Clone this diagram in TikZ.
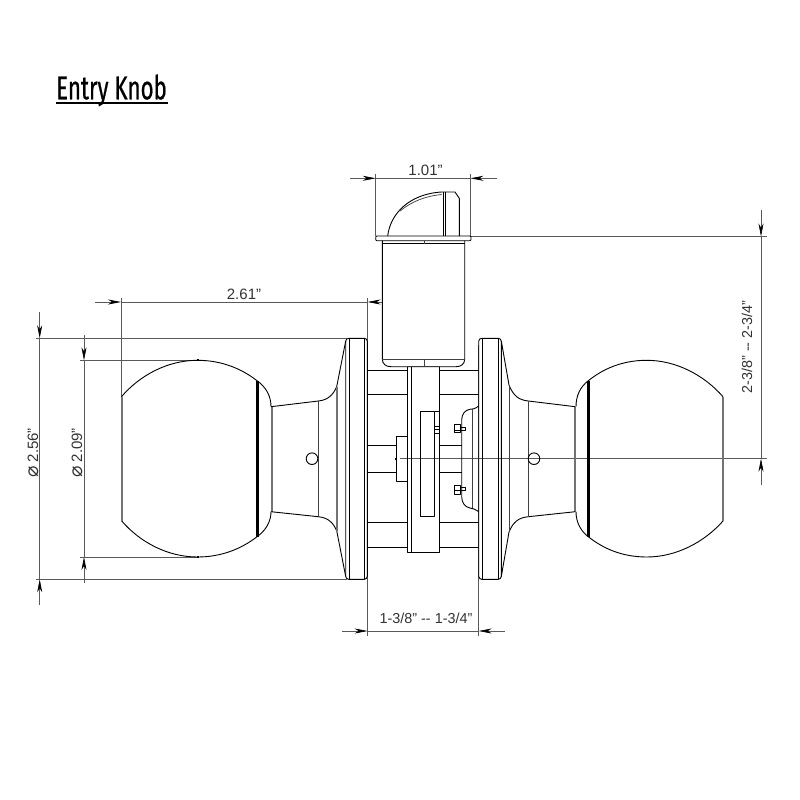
\documentclass[tikz,border=0pt]{standalone}
\usepackage{fontspec}
\usepackage{graphicx}
\setmainfont{Liberation Sans}
\newfontfamily\titlefont[FakeBold=0.7]{Fira Sans}
\newfontfamily\symfont{DejaVu Sans}
\usetikzlibrary{arrows.meta}
\tikzset{
  part/.style={draw=black,line width=0.9pt,line join=round},
  fine/.style={draw=black!75,line width=0.75pt},
  greybar/.style={draw=black!55,line width=2pt},
  heavy/.style={draw=black,line width=3pt},
  dimline/.style={draw=black!65,line width=0.65pt},
  tip/.style={dimline,-{Stealth[length=13pt,width=5pt,inset=4pt,color=black]}},
  dimtext/.style={font=\fontsize{15}{17}\selectfont,text=black!80,inner sep=0pt},
  longdim/.style={dimtext,font=\fontsize{14.4}{17}\selectfont},
  pin/.style={fill=black,draw=none}
}
\newcommand{\dia}{{\symfont\fontsize{19}{19}\selectfont ⌀}}
\begin{document}
\begin{tikzpicture}[x=1pt,y=-1pt]
\useasboundingbox[fill=white] (0,0) rectangle (800,800);
% title
\node[inner sep=0pt,anchor=base west,font=\titlefont\fontsize{33}{35}\selectfont] (title) at (56,99.3) {\scalebox{0.675}[1]{Entry Knob}};
\draw[draw=black,line width=1.6pt] (55.7,103) -- (168,103);

% extension lines (behind)
\draw[dimline] (36,338.3) -- (347,338.3);
\draw[dimline] (36,579.3) -- (347,579.3);
\draw[dimline] (80,360.3) -- (197.5,360.3);
\draw[dimline] (80,557) -- (197.5,557);
\draw[dimline] (121,298) -- (121,396.7);
\draw[dimline] (367.6,298) -- (367.6,636);
\draw[dimline] (478.7,345) -- (478.7,636);
\draw[dimline] (375.7,174) -- (375.7,236);
\draw[dimline] (470.5,174) -- (470.5,236);
\draw[dimline] (471,236.5) -- (767,236.5);
\draw[dimline] (400,458.7) -- (767,458.7);

% dimension lines
\draw[tip] (350,178.3) -- (375.7,178.3);
\draw[tip] (497,178.3) -- (470.5,178.3);
\draw[dimline] (375.7,178.3) -- (470.5,178.3);
\draw[tip] (95,302) -- (121,302);
\draw[tip] (393,302) -- (367.6,302);
\draw[dimline] (121,302) -- (367.6,302);
\draw[tip] (39.7,312) -- (39.7,338.3);
\draw[tip] (39.7,605) -- (39.7,579.3);
\draw[dimline] (39.7,338.3) -- (39.7,579.3);
\draw[tip] (84,335) -- (84,360.3);
\draw[tip] (84,583) -- (84,557);
\draw[dimline] (84,360.3) -- (84,557);
\draw[tip] (761,210) -- (761,236.5);
\draw[tip] (761,485) -- (761,458.7);
\draw[dimline] (761,236.5) -- (761,458.7);
\draw[tip] (342,631) -- (367.6,631);
\draw[tip] (505,631) -- (478.7,631);
\draw[dimline] (367.6,631) -- (478.7,631);

% labels
\node[dimtext] (d101) at (425.5,170) {1.01”};
\node[dimtext] (d261) at (244,294) {2.61”};
\node[dimtext,rotate=90] (d256) at (33,453) {\dia\ 2.56”};
\node[dimtext,rotate=90] (d209) at (77,453) {\dia\ 2.09”};
\node[longdim,rotate=90] (dbore) at (747,347) {2-3/8” -{}- 2-3/4”};
\node[longdim] (dthick) at (426,618.5) {1-3/8” -{}- 1-3/4”};

% pins on the 2.09 diameter
\fill[pin] (196.5,359.3) rectangle (198.5,361.3);
\fill[pin] (196.5,556) rectangle (198.5,558);
\fill[pin] (395,457.7) rectangle (397,459.7);

% left knob
\draw[part] (121.5,396.7) .. controls (140,375) and (168,360.3) .. (197.5,360.3)
  .. controls (222,360.3) and (242,369) .. (257,380.7)
  .. controls (266,387) and (271,396) .. (271,406.7);
\draw[part] (121.5,520.7) .. controls (140,542.4) and (168,557) .. (197.5,557)
  .. controls (222,557) and (242,548.4) .. (257,536.7)
  .. controls (266,530.4) and (271,521.4) .. (271,511.7);
\draw[greybar] (122,396.7) -- (122,520.7);
\draw[heavy] (257.3,380.7) -- (257.3,536.7);
\draw[greybar] (272,406.7) -- (272,511.7);
% left neck
\draw[part] (271,406.7) -- (318.3,401) .. controls (328,400) and (333,395) .. (336.7,386.7) -- (345.7,341);
\draw[part] (271,511.7) -- (318.3,516.7) .. controls (328,517.7) and (333,522.4) .. (336.7,530.7) -- (345.7,576.5);
\draw[fine] (318.3,401) -- (318.3,516.7);
\draw[greybar] (336.7,386.7) -- (336.7,530.7);
\draw[part] (312,458.7) circle[radius=5.8pt];

% right knob
\draw[part] (723,396.7) .. controls (704,375) and (676,360.3) .. (646.7,360.3)
  .. controls (622,360.3) and (603,369) .. (588.3,380.7)
  .. controls (580,387) and (576,396) .. (576,406.7);
\draw[part] (723,521) .. controls (704,542.4) and (676,557) .. (646.7,557)
  .. controls (622,557) and (603,548.4) .. (588.3,536.7)
  .. controls (580,530.4) and (576,521.4) .. (576,511.7);
\draw[greybar] (723,396.7) -- (723,521);
\draw[heavy] (588.3,380.7) -- (588.3,536.7);
\draw[greybar] (575,406.7) -- (575,511.7);
% right neck
\draw[part] (575.3,406.7) -- (528.3,401) .. controls (518,400) and (513,395) .. (509,385) -- (501.3,341);
\draw[part] (575.3,511.7) -- (528.3,516.7) .. controls (518,517.7) and (513,522.4) .. (509,532) -- (501.3,576.5);
\draw[fine] (528.3,401) -- (528.3,516.7);
\draw[fine] (509,385) -- (509,532);
\draw[part] (534,458.7) circle[radius=5.8pt];

% roses
\draw[part,rounded corners=3pt] (345.7,338.3) rectangle (367.3,579.3);
\draw[part] (349,338.3) -- (349,579.3);
\draw[part] (364,338.3) -- (364,579.3);
\draw[part,rounded corners=3pt] (478.7,338.3) rectangle (501.3,579.3);
\draw[part] (482.7,338.3) -- (482.7,579.3);
\draw[part] (498,338.3) -- (498,579.3);

% chassis
\draw[part] (367.3,370.7) -- (407.7,370.7) (439.3,370.7) -- (478.7,370.7);
\draw[part] (367.3,394.7) -- (407.7,394.7) (439.3,394.7) -- (478.7,394.7);
\draw[part] (367.3,522.7) -- (407.7,522.7) (439.3,522.7) -- (478.7,522.7);
\draw[part] (367.3,547) -- (407.7,547) (439.3,547) -- (478.7,547);
\draw[part] (367.3,445) -- (396,445) (439.3,445) -- (461.7,445);
\draw[part] (367.3,472.7) -- (396,472.7) (439.3,472.7) -- (461.7,472.7);
\draw[part] (396,436.7) rectangle (407.7,481);
\draw[part] (407.7,366.7) rectangle (439.3,552);
\draw[part] (411.7,366.7) -- (411.7,552);
\draw[part] (420.3,411.7) rectangle (434.7,516.7);
\draw[part] (434.7,411.7) -- (439.3,411.7);
\draw[part] (434.7,426) -- (439.3,426) (434.7,429) -- (439.3,429) (434.7,433.5) -- (439.3,433.5);

% latch mechanism on the right rose
\draw[part] (478.7,406) .. controls (475,409) and (472,409.3) .. (470,409.3)
  .. controls (465,410) and (461.7,414) .. (461.7,420) -- (461.7,496.7)
  .. controls (461.7,503) and (465,507) .. (470,508)
  .. controls (472,508.3) and (475,509) .. (478.7,511.7);
\draw[fine] (472.7,409) -- (472.7,508);
\draw[part] (454,424) rectangle (460.7,432.7);
\draw[part] (460.7,427) -- (465,427) -- (465,430) -- (454,430);
\draw[part] (454,485.3) rectangle (460.7,494.7);
\draw[part] (460.7,487) -- (465,487) -- (465,490) -- (454,490);

% cylinder
\draw[part,fill=white] (382.3,240.7) -- (382.3,359)
  .. controls (382.3,364) and (386,366.7) .. (391,366.7) -- (456,366.7)
  .. controls (461,366.7) and (464.7,364) .. (464.7,359) -- (464.7,240.7);
\draw[fine] (382.3,359) -- (464.7,359);
\draw[fine] (424,359) -- (424,366.7);
\draw[part] (382.3,243.5) -- (464.7,243.5);
\draw[fine] (424,240.7) -- (424,243.5);
\draw[part,rounded corners=1pt] (375.7,236) rectangle (471,240.7);

% bolt
\draw[part] (387.7,236) .. controls (390,215) and (408,194) .. (441.7,192)
  -- (455,192) -- (459.3,198.3) -- (459.3,236);
\draw[fine] (400,211) .. controls (411,202) and (425,196) .. (441.7,194.5);
\draw[part] (443.5,192) -- (443.5,236);
\draw[part] (445.5,192) -- (445.5,236);
\end{tikzpicture}
\end{document}
